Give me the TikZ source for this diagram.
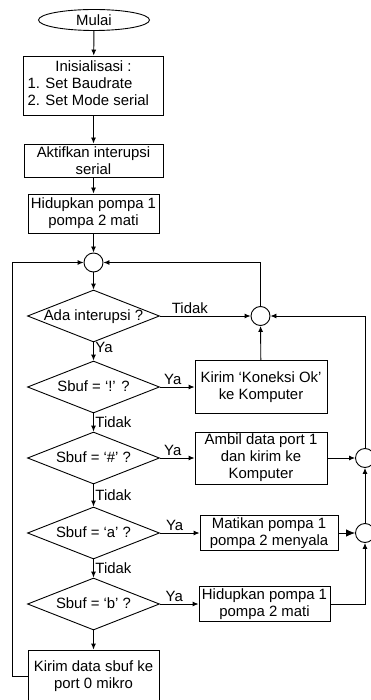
\documentclass[tikz,border=0pt]{standalone}
\usepackage{fontspec}
\setmainfont{Liberation Sans}
\usetikzlibrary{shapes.geometric,arrows.meta}
\begin{document}
\begin{tikzpicture}[x=1pt,y=-1pt,line width=0.9pt,
    every node/.style={font=\fontsize{14.9pt}{17pt}\selectfont},
    proses/.style={draw,rectangle,align=center,inner sep=0pt},
    keputusan/.style={draw,diamond,aspect=2.5,inner sep=0pt,text height=9pt,text depth=1pt,
      minimum width=132pt,minimum height=52pt},
    titik/.style={draw,circle,minimum size=19pt,inner sep=0pt},
    mulai/.style={draw,ellipse,minimum width=111pt,minimum height=21pt,inner sep=0pt},
    panah/.style={-{Latex[length=6pt,width=5pt]}},
    panahbesar/.style={-{Latex[length=9pt,width=7.5pt]}},
    ket/.style={inner sep=1.5pt}]
  \useasboundingbox (0,0) rectangle (371,700);
  \node[mulai] (mulai) at (94,20) {Mulai};
  \node[proses,minimum width=140pt,minimum height=59pt] (init) at (93.5,85.5)
    {\begin{tabular}{@{}p{132pt}@{}}\multicolumn{1}{@{}c@{}}{Inisialisasi :}\\1. Set Baudrate\\2. Set Mode serial\end{tabular}};
  \node[proses,minimum width=139pt,minimum height=33pt] (aktif) at (93.5,160.5) {Aktifkan interupsi\\serial};
  \node[proses,minimum width=131pt,minimum height=39pt] (hidup) at (93.5,213.5) {Hidupkan pompa 1\\pompa 2 mati};
  \node[titik] (c1) at (93.5,262.5) {};
  \node[keputusan] (d1) at (93.5,316) {Ada interupsi ?};
  \node[titik] (c2) at (260.5,316) {};
  \node[keputusan] (d2) at (93.5,387) {Sbuf = ‘!’ ?};
  \node[proses,minimum width=132pt,minimum height=53pt] (kirimok) at (261,387) {Kirim ‘Koneksi Ok’\\ke Komputer};
  \node[keputusan] (d3) at (93.5,458) {Sbuf = ‘\#’ ?};
  \node[proses,minimum width=132pt,minimum height=52pt] (ambil) at (261,458) {Ambil data port 1\\dan kirim ke\\Komputer};
  \node[titik] (c3) at (365,458) {};
  \node[keputusan] (d4) at (93.5,533) {Sbuf = ‘a’ ?};
  \node[proses,minimum width=138pt,minimum height=35pt] (matikan) at (269,533) {Matikan pompa 1\\pompa 2 menyala};
  \node[titik] (c4) at (365,533) {};
  \node[keputusan] (d5) at (93.5,604) {Sbuf = ‘b’ ?};
  \node[proses,minimum width=131pt,minimum height=35pt] (hidup2) at (264.5,604) {Hidupkan pompa 1\\pompa 2 mati};
  \node[proses,minimum width=131pt,minimum height=53pt] (kirim) at (93.5,676.5) {Kirim data sbuf ke\\port 0 mikro};
  \coordinate (kiri) at (12,262.5);
  \draw[panah] (mulai) -- (init);
  \draw[panah] (init) -- (aktif);
  \draw[panah] (aktif) -- (hidup);
  \draw[panah] (hidup) -- (c1);
  \draw[panah] (c1) -- (d1);
  \draw[panah] (d1) -- node[ket,pos=.25,right]{Ya} (d2);
  \draw[panah] (d2) -- node[ket,midway,right]{Tidak} (d3);
  \draw[panah] (d3) -- node[ket,midway,right]{Tidak} (d4);
  \draw[panah] (d4) -- node[ket,midway,right]{Tidak} (d5);
  \draw[panah] (d5) -- (kirim);
  \draw[panah] (kirim.west) -| (kiri) -- (c1);
  \draw[panah] (d1) -- node[ket,pos=.33,above]{Tidak} (c2);
  \draw[panah] (d2) -- node[ket,pos=.37,above]{Ya} (kirimok);
  \draw[panah] (kirimok) -- (c2);
  \draw[panah] (c2) |- (c1);
  \draw[panah] (d3) -- node[ket,pos=.37,above]{Ya} (ambil);
  \draw[panah] (ambil) -- (c3);
  \draw[panah] (d4) -- node[ket,pos=.37,above]{Ya} (matikan);
  \draw[panahbesar] (matikan) -- (c4);
  \draw[panah] (d5) -- node[ket,pos=.37,above]{Ya} (hidup2);
  \draw[panah] (hidup2) -| (c4);
  \draw[panah] (c4) -- (c3);
  \draw[panah] (c3) |- (c2);
\end{tikzpicture}
\end{document}
